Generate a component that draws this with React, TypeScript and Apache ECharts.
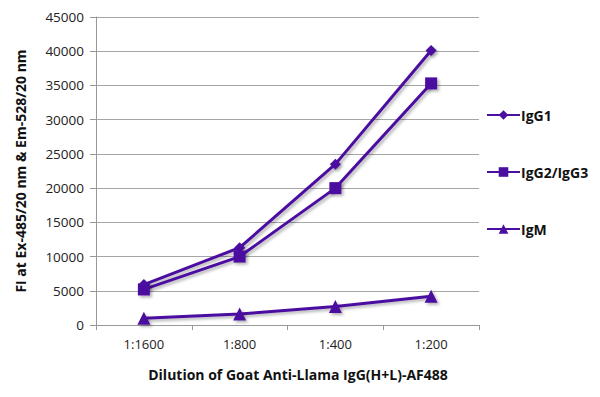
import React, { useEffect, useRef } from "react";
import * as echarts from "echarts";

const categories = ["1:1600", "1:800", "1:400", "1:200"];
const igG1 = [5900, 11300, 23500, 40100];
const igG2G3 = [5200, 10000, 20000, 35300];
const igM = [1000, 1600, 2700, 4200];
const yTicks = { min: 0, max: 45000, interval: 5000 };

const PURPLE = "#4b0fa0";
const FONT = "'Open Sans', 'Noto Sans', sans-serif";

export default function App() {
  const ref = useRef<HTMLDivElement>(null);
  useEffect(() => {
    if (!ref.current) return;
    const chart = echarts.init(ref.current, undefined, { renderer: "svg" });
    const mk = (name: string, data: number[], symbol: string, size: number) => ({
      name,
      type: "line",
      data,
      symbol,
      symbolSize: size,
      lineStyle: {
        color: PURPLE,
        width: 3,
        shadowColor: "rgba(0,0,0,0.3)",
        shadowBlur: 3,
        shadowOffsetX: 2,
        shadowOffsetY: 2,
      },
      itemStyle: {
        color: PURPLE,
        borderWidth: 0,
        shadowColor: "rgba(0,0,0,0.3)",
        shadowBlur: 3,
        shadowOffsetX: 2,
        shadowOffsetY: 2,
      },
      emphasis: { disabled: true },
    });
    chart.setOption({
      animation: false,
      backgroundColor: "#ffffff",
      grid: { left: 96, right: 121, top: 17, bottom: 72, containLabel: false },
      legend: {
        orient: "vertical",
        left: 486,
        top: 108,
        padding: 0,
        itemWidth: 33,
        itemHeight: 12,
        itemGap: 43,
        textStyle: { fontFamily: FONT, fontWeight: "bold", fontSize: 14, color: "#111", padding: [0, 0, 0, -4] },
        data: ["IgG1", "IgG2/IgG3", "IgM"],
      },
      xAxis: {
        type: "category",
        data: categories,
        boundaryGap: true,
        axisLine: { lineStyle: { color: "#999", width: 1 } },
        axisTick: { show: true, length: 5, inside: false, lineStyle: { color: "#999" } },
        axisLabel: { fontFamily: FONT, fontSize: 13, color: "#222", margin: 12 },
        name: "Dilution of Goat Anti-Llama IgG(H+L)-AF488",
        nameLocation: "middle",
        nameGap: 42,
        nameTextStyle: { fontFamily: FONT, fontWeight: "bold", fontSize: 14, color: "#111", padding: [0, 0, 0, 21] },
      },
      yAxis: {
        type: "value",
        min: yTicks.min,
        max: yTicks.max,
        interval: yTicks.interval,
        axisLine: { show: true, lineStyle: { color: "#999", width: 1 } },
        axisTick: { show: true, length: 6, lineStyle: { color: "#999" } },
        axisLabel: { fontFamily: FONT, fontSize: 13.5, color: "#222", margin: 12, formatter: (v: number) => String(v) },
        splitLine: { show: true, lineStyle: { color: "#a6a6a6", width: 1 } },
        name: "FI at Ex-485/20 nm & Em-528/20 nm",
        nameLocation: "middle",
        nameGap: 69,
        nameRotate: 90,
        nameTextStyle: { fontFamily: FONT, fontWeight: "bold", fontSize: 14, color: "#111" },
      },
      series: [
        mk("IgG1", igG1, "diamond", 11),
        mk("IgG2/IgG3", igG2G3, "rect", 12),
        mk("IgM", igM, "triangle", 13),
      ],
    });
    return () => chart.dispose();
  }, []);
  return <div ref={ref} style={{ width: 600, height: 397, position: "absolute", left: 0, top: 0 }} />;
}
